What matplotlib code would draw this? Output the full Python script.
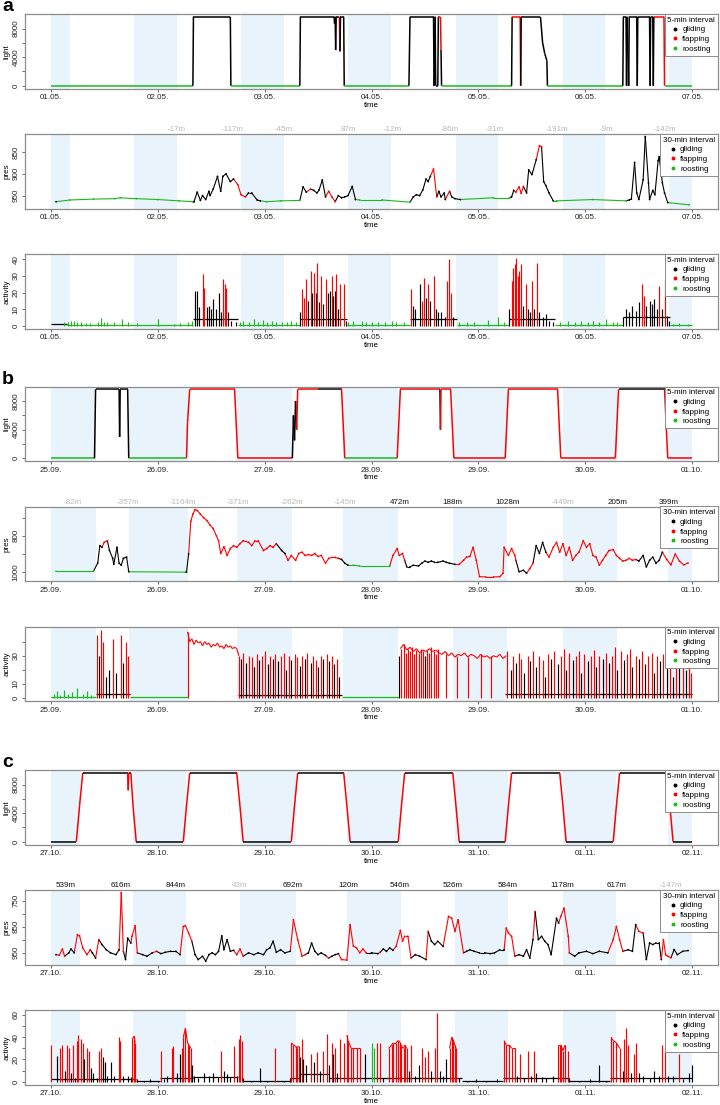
import matplotlib.pyplot as plt
from matplotlib.collections import LineCollection
from matplotlib.lines import Line2D

plt.rcParams['font.family'] = ['Liberation Sans', 'DejaVu Sans']
plt.rcParams['font.size'] = 5.8

# g = gliding, f = flapping, r = roosting
COL = {'g': '#000000', 'f': '#FF0000', 'r': '#1DB81D'}
NIGHT = '#E8F3FC'
GREY = '#B8B8B8'

# x axis: days since the first midnight
a_dates = ['01.05.', '02.05.', '03.05.', '04.05.', '05.05.', '06.05.', '07.05.']
b_dates = ['25.09.', '26.09.', '27.09.', '28.09.', '29.09.', '30.09.', '01.10.']
c_dates = ['27.10.', '28.10.', '29.10.', '30.10.', '31.10.', '01.11.', '02.11.']

a_night = [(0, 0.18), (0.78, 1.18), (1.78, 2.18), (2.78, 3.18), (3.79, 4.18), (4.79, 5.18), (5.78, 6.0)]
b_night = [(0, 0.42), (0.73, 1.28), (1.74, 2.26), (2.73, 3.25), (3.76, 4.27), (4.79, 5.30), (5.77, 6.0)]
c_night = [(0, 0.27), (0.77, 1.27), (1.77, 2.29), (2.77, 3.28), (3.78, 4.28), (4.79, 5.29), (5.77, 6.0)]

# altitude change labels above the pressure panels
a_alt_t = [1.18, 1.70, 2.18, 2.78, 3.20, 3.73, 4.15, 4.73, 5.20, 5.74]
a_alt = ['-17m', '-117m', '-45m', '87m', '-12m', '-86m', '-31m', '-191m', '-9m', '-142m']
a_alt_c = ['grey'] * 10
b_alt_t = [0.21, 0.72, 1.24, 1.75, 2.26, 2.75, 3.26, 3.76, 4.27, 4.79, 5.30, 5.78]
b_alt = ['-82m', '-357m', '-1164m', '-371m', '-262m', '-145m', '472m', '188m', '1028m', '-449m', '205m', '399m']
b_alt_c = ['grey'] * 6 + ['black'] * 3 + ['grey', 'black', 'black']
c_alt_t = [0.14, 0.65, 1.17, 1.77, 2.26, 2.78, 3.26, 3.76, 4.27, 4.78, 5.29, 5.80]
c_alt = ['539m', '616m', '844m', '43m', '692m', '120m', '546m', '526m', '584m', '1178m', '617m', '-147m']
c_alt_c = ['black'] * 3 + ['grey'] + ['black'] * 7 + ['grey']

# light (time, value, state)
a_light = [(0.00, 0, 'g'), (0.15, 0, 'r'), (1.33, 0, 'r'), (1.335, 9650, 'g'), (1.68, 9650, 'g'),
           (1.685, 0, 'g'), (1.70, 0, 'r'), (2.33, 0, 'r'), (2.335, 9650, 'g'), (2.65, 9650, 'g'),
           (2.655, 8700, 'g'), (2.66, 9650, 'g'), (2.665, 5000, 'g'), (2.67, 9650, 'g'), (2.70, 9650, 'g'),
           (2.705, 4800, 'f'), (2.71, 9650, 'g'), (2.74, 9650, 'g'), (2.745, 0, 'g'), (2.76, 0, 'r'),
           (3.35, 0, 'r'), (3.36, 9650, 'g'), (3.58, 9650, 'g'), (3.585, 0, 'g'), (3.595, 9650, 'g'),
           (3.60, 0, 'g'), (3.62, 0, 'g'), (3.625, 9650, 'g'), (3.645, 9650, 'f'), (3.65, 5000, 'f'),
           (3.655, 0, 'g'), (3.67, 0, 'r'), (4.31, 0, 'r'), (4.315, 9650, 'g'), (4.39, 9650, 'f'),
           (4.395, 0, 'f'), (4.40, 9650, 'g'), (4.58, 9650, 'g'), (4.60, 6000, 'g'), (4.62, 4500, 'g'),
           (4.64, 3500, 'g'), (4.645, 0, 'g'), (4.66, 0, 'r'), (5.35, 0, 'r'), (5.355, 9650, 'g'),
           (5.38, 9650, 'g'), (5.385, 0, 'g'), (5.39, 9650, 'g'), (5.405, 0, 'g'), (5.41, 9650, 'g'),
           (5.48, 9650, 'g'), (5.485, 0, 'g'), (5.49, 9650, 'g'), (5.60, 9650, 'g'), (5.605, 0, 'g'),
           (5.61, 9650, 'g'), (5.63, 9650, 'g'), (5.635, 0, 'g'), (5.64, 9650, 'g'), (5.735, 9650, 'f'),
           (5.74, 0, 'f'), (5.76, 0, 'r'), (6.0, 0, 'r')]
b_light = [(0.00, 0, 'r'), (0.41, 0, 'r'), (0.42, 9650, 'g'), (0.64, 9650, 'g'), (0.645, 3000, 'g'),
           (0.65, 9650, 'g'), (0.72, 9650, 'g'), (0.73, 0, 'g'), (1.27, 0, 'r'), (1.28, 5000, 'f'),
           (1.30, 9650, 'f'), (1.72, 9650, 'f'), (1.75, 0, 'f'), (2.26, 0, 'f'), (2.27, 6000, 'g'),
           (2.28, 2500, 'g'), (2.29, 8000, 'g'), (2.30, 4000, 'g'), (2.31, 9650, 'f'), (2.50, 9650, 'f'),
           (2.52, 9650, 'g'), (2.72, 9650, 'g'), (2.75, 0, 'f'), (3.24, 0, 'r'), (3.27, 9650, 'f'),
           (3.64, 9650, 'f'), (3.645, 4000, 'g'), (3.65, 9650, 'f'), (3.74, 9650, 'f'), (3.77, 0, 'f'),
           (4.25, 0, 'f'), (4.28, 9650, 'f'), (4.74, 9650, 'f'), (4.77, 0, 'f'), (5.28, 0, 'f'),
           (5.31, 9650, 'f'), (5.33, 9650, 'g'), (5.74, 9650, 'g'), (5.77, 0, 'f'), (6.0, 0, 'f')]
c_light = [(0.00, 0, 'g'), (0.24, 0, 'g'), (0.27, 5000, 'f'), (0.30, 9650, 'f'), (0.72, 9650, 'g'),
           (0.725, 7200, 'f'), (0.73, 9650, 'f'), (0.75, 9650, 'g'), (0.77, 5000, 'f'), (0.80, 0, 'f'),
           (1.24, 0, 'g'), (1.27, 5000, 'f'), (1.30, 9650, 'f'), (1.74, 9650, 'g'), (1.77, 5000, 'f'),
           (1.80, 0, 'f'), (2.25, 0, 'g'), (2.28, 5000, 'f'), (2.31, 9650, 'f'), (2.74, 9650, 'g'),
           (2.77, 5000, 'f'), (2.80, 0, 'f'), (3.25, 0, 'g'), (3.28, 5000, 'f'), (3.31, 9650, 'f'),
           (3.76, 9650, 'g'), (3.79, 5000, 'f'), (3.82, 0, 'f'), (4.25, 0, 'g'), (4.28, 5000, 'f'),
           (4.31, 9650, 'f'), (4.76, 9650, 'g'), (4.79, 5000, 'f'), (4.82, 0, 'f'), (5.26, 0, 'g'),
           (5.29, 5000, 'f'), (5.32, 9650, 'f'), (5.76, 9650, 'g'), (5.79, 5000, 'f'), (5.82, 0, 'f'),
           (6.0, 0, 'g')]

# pressure (time, hPa, state)
a_pres = [(0.05, 964, 'g'), (0.18, 960, 'r'), (0.40, 958, 'r'), (0.60, 957, 'r'), (0.65, 955, 'r'),
          (0.80, 957, 'r'), (1.00, 959, 'r'), (1.20, 962, 'r'), (1.33, 964, 'r'),
          (1.34, 964, 'g'), (1.37, 942, 'g'), (1.40, 961, 'g'), (1.42, 950, 'g'), (1.45, 959, 'g'),
          (1.48, 940, 'g'), (1.49, 950, 'g'), (1.52, 935, 'g'), (1.56, 906, 'g'), (1.59, 940, 'g'),
          (1.61, 906, 'g'), (1.64, 900, 'g'), (1.68, 918, 'g'), (1.71, 912, 'g'), (1.75, 925, 'f'),
          (1.78, 948, 'f'), (1.82, 953, 'f'), (1.85, 944, 'g'), (1.88, 944, 'g'), (1.93, 960, 'g'),
          (1.96, 962, 'g'), (2.02, 964, 'r'), (2.15, 962, 'r'), (2.33, 961, 'r'),
          (2.36, 930, 'g'), (2.39, 942, 'g'), (2.43, 935, 'f'), (2.46, 938, 'g'), (2.49, 944, 'g'),
          (2.51, 937, 'g'), (2.54, 914, 'g'), (2.57, 953, 'g'), (2.60, 940, 'f'), (2.63, 953, 'f'),
          (2.66, 964, 'f'), (2.69, 950, 'g'), (2.72, 955, 'g'), (2.75, 953, 'g'), (2.78, 950, 'g'),
          (2.82, 929, 'g'), (2.85, 959, 'g'), (2.89, 960, 'r'), (3.10, 960, 'r'), (3.36, 965, 'r'),
          (3.39, 953, 'g'), (3.42, 948, 'g'), (3.45, 950, 'g'), (3.48, 937, 'g'), (3.51, 912, 'g'),
          (3.53, 918, 'g'), (3.55, 906, 'g'), (3.58, 889, 'f'), (3.61, 953, 'f'), (3.63, 940, 'g'),
          (3.65, 953, 'g'), (3.68, 944, 'g'), (3.69, 959, 'g'), (3.73, 940, 'f'), (3.75, 953, 'g'),
          (3.78, 957, 'g'), (3.83, 959, 'g'), (4.14, 955, 'r'), (4.29, 955, 'r'),
          (4.31, 953, 'g'), (4.33, 938, 'g'), (4.35, 942, 'f'), (4.38, 930, 'f'), (4.40, 945, 'f'),
          (4.42, 929, 'f'), (4.45, 944, 'g'), (4.47, 891, 'g'), (4.50, 902, 'g'), (4.54, 868, 'g'),
          (4.57, 836, 'f'), (4.59, 838, 'f'), (4.61, 918, 'g'), (4.63, 927, 'g'), (4.66, 944, 'g'),
          (4.70, 962, 'g'), (4.73, 962, 'r'), (5.07, 959, 'r'), (5.38, 962, 'r'),
          (5.41, 960, 'g'), (5.43, 958, 'g'), (5.46, 874, 'g'), (5.48, 944, 'g'), (5.50, 959, 'g'),
          (5.54, 914, 'g'), (5.56, 815, 'g'), (5.59, 921, 'g'), (5.60, 959, 'g'), (5.63, 938, 'g'),
          (5.65, 948, 'g'), (5.68, 870, 'g'), (5.69, 861, 'g'), (5.72, 921, 'g'), (5.74, 944, 'g'),
          (5.77, 966, 'g'), (5.97, 971, 'r')]
b_pres = [(0.05, 995, 'r'), (0.40, 995, 'r'), (0.44, 950, 'g'), (0.46, 854, 'g'), (0.48, 863, 'g'),
          (0.50, 836, 'f'), (0.53, 827, 'f'), (0.55, 881, 'g'), (0.58, 924, 'g'), (0.59, 957, 'g'),
          (0.62, 863, 'g'), (0.64, 951, 'g'), (0.66, 962, 'g'), (0.68, 924, 'g'), (0.71, 917, 'g'),
          (0.73, 998, 'g'), (1.26, 1000, 'r'), (1.27, 1000, 'g'), (1.29, 900, 'g'), (1.31, 720, 'f'),
          (1.33, 680, 'f'), (1.35, 655, 'f'), (1.37, 660, 'f'), (1.40, 680, 'f'), (1.43, 700, 'f'),
          (1.46, 715, 'f'), (1.49, 740, 'f'), (1.52, 760, 'f'), (1.55, 800, 'f'), (1.57, 827, 'f'),
          (1.59, 897, 'f'), (1.62, 860, 'f'), (1.65, 908, 'f'), (1.68, 870, 'f'), (1.71, 854, 'f'),
          (1.74, 863, 'f'), (1.77, 843, 'f'), (1.80, 827, 'f'), (1.85, 835, 'f'), (1.88, 854, 'f'),
          (1.91, 827, 'f'), (1.94, 827, 'f'), (1.99, 881, 'f'), (2.02, 870, 'f'), (2.05, 854, 'f'),
          (2.08, 863, 'f'), (2.11, 843, 'f'), (2.16, 881, 'g'), (2.19, 897, 'g'), (2.22, 935, 'f'),
          (2.25, 908, 'f'), (2.29, 935, 'f'), (2.32, 897, 'f'), (2.35, 890, 'f'), (2.38, 908, 'f'),
          (2.41, 903, 'f'), (2.44, 908, 'f'), (2.47, 897, 'f'), (2.50, 914, 'f'), (2.53, 908, 'f'),
          (2.57, 951, 'f'), (2.60, 924, 'f'), (2.63, 919, 'f'), (2.66, 919, 'f'), (2.69, 924, 'f'),
          (2.72, 930, 'g'), (2.75, 951, 'g'), (2.78, 962, 'g'), (2.83, 962, 'r'), (2.89, 966, 'r'),
          (3.17, 966, 'r'), (3.20, 908, 'f'), (3.24, 870, 'f'), (3.26, 908, 'f'), (3.29, 897, 'f'),
          (3.31, 935, 'f'), (3.33, 971, 'g'), (3.36, 971, 'g'), (3.39, 962, 'g'), (3.44, 966, 'g'),
          (3.47, 951, 'g'), (3.50, 939, 'g'), (3.53, 946, 'g'), (3.56, 939, 'g'), (3.59, 946, 'g'),
          (3.62, 946, 'g'), (3.67, 939, 'g'), (3.70, 946, 'g'), (3.73, 951, 'g'), (3.78, 957, 'g'),
          (3.82, 957, 'f'), (3.86, 935, 'f'), (3.89, 917, 'f'), (3.92, 913, 'f'), (3.95, 863, 'f'),
          (3.98, 935, 'f'), (4.01, 1025, 'f'), (4.07, 1027, 'f'), (4.14, 1027, 'f'), (4.20, 1025, 'f'),
          (4.23, 1006, 'f'), (4.24, 863, 'f'), (4.28, 908, 'f'), (4.31, 870, 'f'), (4.34, 908, 'f'),
          (4.35, 935, 'f'), (4.38, 998, 'g'), (4.42, 990, 'g'), (4.45, 1006, 'g'), (4.48, 981, 'f'),
          (4.51, 951, 'f'), (4.54, 854, 'g'), (4.57, 897, 'g'), (4.60, 836, 'g'), (4.63, 890, 'g'),
          (4.66, 917, 'f'), (4.70, 863, 'f'), (4.73, 836, 'f'), (4.76, 890, 'f'), (4.79, 843, 'f'),
          (4.82, 908, 'f'), (4.85, 863, 'f'), (4.88, 935, 'f'), (4.91, 908, 'f'), (4.94, 890, 'f'),
          (4.98, 827, 'f'), (5.01, 863, 'f'), (5.04, 843, 'f'), (5.07, 908, 'f'), (5.10, 917, 'f'),
          (5.13, 962, 'f'), (5.16, 935, 'f'), (5.19, 908, 'f'), (5.22, 881, 'f'), (5.26, 876, 'f'),
          (5.29, 908, 'f'), (5.32, 924, 'f'), (5.35, 939, 'f'), (5.38, 935, 'f'), (5.41, 924, 'f'),
          (5.44, 935, 'f'), (5.47, 930, 'f'), (5.50, 939, 'g'), (5.54, 908, 'g'), (5.57, 971, 'g'),
          (5.60, 935, 'g'), (5.63, 917, 'g'), (5.66, 951, 'g'), (5.69, 935, 'g'), (5.72, 890, 'g'),
          (5.76, 930, 'f'), (5.80, 960, 'f'), (5.84, 900, 'f'), (5.88, 940, 'f'), (5.92, 960, 'f'),
          (5.96, 950, 'f')]
c_pres = [(0.05, 958, 'g'), (0.08, 960, 'f'), (0.11, 936, 'f'), (0.13, 964, 'f'), (0.17, 951, 'g'),
          (0.19, 936, 'g'), (0.22, 951, 'g'), (0.25, 881, 'f'), (0.27, 885, 'f'), (0.30, 932, 'f'),
          (0.34, 958, 'f'), (0.37, 939, 'f'), (0.39, 951, 'g'), (0.42, 971, 'g'), (0.45, 900, 'f'),
          (0.48, 919, 'g'), (0.52, 939, 'g'), (0.56, 951, 'g'), (0.61, 958, 'g'), (0.64, 939, 'g'),
          (0.66, 718, 'f'), (0.68, 945, 'f'), (0.70, 977, 'g'), (0.72, 894, 'g'), (0.75, 913, 'g'),
          (0.76, 887, 'f'), (0.79, 846, 'f'), (0.81, 951, 'f'), (0.86, 958, 'g'), (0.90, 964, 'g'),
          (0.95, 951, 'g'), (0.99, 945, 'f'), (1.03, 954, 'g'), (1.07, 949, 'g'), (1.12, 945, 'g'),
          (1.17, 945, 'g'), (1.21, 958, 'g'), (1.24, 849, 'f'), (1.26, 846, 'f'), (1.29, 874, 'f'),
          (1.32, 906, 'f'), (1.35, 958, 'g'), (1.38, 977, 'g'), (1.42, 964, 'g'), (1.45, 983, 'g'),
          (1.48, 958, 'g'), (1.51, 951, 'g'), (1.54, 958, 'g'), (1.57, 945, 'g'), (1.60, 885, 'g'),
          (1.62, 939, 'g'), (1.65, 900, 'g'), (1.68, 945, 'g'), (1.71, 941, 'g'), (1.74, 958, 'f'),
          (1.77, 936, 'f'), (1.80, 964, 'f'), (1.85, 951, 'g'), (1.90, 958, 'g'), (1.94, 951, 'g'),
          (1.99, 958, 'g'), (2.02, 939, 'g'), (2.05, 932, 'g'), (2.08, 906, 'g'), (2.11, 949, 'g'),
          (2.15, 939, 'g'), (2.19, 951, 'g'), (2.24, 945, 'g'), (2.27, 823, 'f'), (2.31, 900, 'f'),
          (2.35, 964, 'f'), (2.38, 958, 'f'), (2.41, 951, 'g'), (2.44, 913, 'g'), (2.47, 945, 'g'),
          (2.50, 958, 'g'), (2.53, 951, 'g'), (2.57, 961, 'g'), (2.60, 971, 'f'), (2.63, 964, 'g'),
          (2.66, 958, 'g'), (2.69, 954, 'g'), (2.72, 977, 'f'), (2.77, 979, 'f'), (2.80, 842, 'f'),
          (2.83, 925, 'f'), (2.86, 932, 'f'), (2.89, 951, 'f'), (2.92, 936, 'f'), (2.95, 951, 'f'),
          (3.00, 951, 'g'), (3.06, 954, 'g'), (3.08, 949, 'f'), (3.11, 936, 'g'), (3.14, 945, 'g'),
          (3.17, 932, 'g'), (3.20, 941, 'g'), (3.23, 926, 'f'), (3.27, 864, 'f'), (3.29, 906, 'f'),
          (3.31, 887, 'f'), (3.34, 887, 'f'), (3.37, 971, 'f'), (3.41, 958, 'g'), (3.45, 964, 'g'),
          (3.51, 977, 'g'), (3.53, 868, 'f'), (3.56, 906, 'g'), (3.59, 919, 'g'), (3.62, 906, 'g'),
          (3.67, 926, 'g'), (3.72, 810, 'f'), (3.75, 817, 'f'), (3.78, 868, 'f'), (3.81, 823, 'f'),
          (3.86, 951, 'f'), (3.89, 945, 'g'), (3.92, 939, 'g'), (3.96, 945, 'g'), (4.01, 951, 'g'),
          (4.06, 951, 'g'), (4.11, 954, 'g'), (4.15, 951, 'g'), (4.20, 939, 'g'), (4.24, 939, 'g'),
          (4.26, 855, 'f'), (4.28, 874, 'f'), (4.31, 887, 'f'), (4.34, 964, 'f'), (4.38, 958, 'g'),
          (4.42, 964, 'g'), (4.45, 939, 'g'), (4.48, 971, 'g'), (4.51, 900, 'g'), (4.53, 791, 'f'),
          (4.56, 900, 'g'), (4.59, 887, 'g'), (4.62, 906, 'g'), (4.65, 919, 'g'), (4.68, 958, 'g'),
          (4.73, 817, 'g'), (4.75, 836, 'g'), (4.77, 810, 'f'), (4.80, 778, 'f'), (4.84, 887, 'f'),
          (4.85, 951, 'f'), (4.90, 964, 'g'), (4.94, 951, 'g'), (5.01, 945, 'g'), (5.07, 954, 'g'),
          (5.13, 945, 'g'), (5.21, 951, 'g'), (5.26, 900, 'f'), (5.29, 849, 'f'), (5.32, 900, 'f'),
          (5.35, 945, 'f'), (5.40, 939, 'g'), (5.44, 945, 'g'), (5.47, 842, 'g'), (5.50, 868, 'f'),
          (5.54, 874, 'f'), (5.57, 977, 'g'), (5.60, 913, 'g'), (5.63, 919, 'g'), (5.66, 913, 'g'),
          (5.69, 913, 'g'), (5.71, 977, 'g'), (5.73, 900, 'f'), (5.75, 958, 'f'), (5.77, 964, 'f'),
          (5.80, 970, 'f'), (5.83, 938, 'g'), (5.86, 958, 'g'), (5.91, 945, 'g'), (5.96, 942, 'g')]

# activity: baseline stretches (start, end, level, state)
a_act_base = [(0.00, 0.15, 1, 'g'), (0.15, 1.33, 0.4, 'r'), (1.33, 1.75, 4, 'g'), (1.75, 2.33, 0.4, 'r'),
              (2.33, 2.77, 4, 'g'), (2.77, 3.36, 0.4, 'r'), (3.36, 3.80, 4, 'g'), (3.80, 4.29, 0.4, 'r'),
              (4.29, 4.72, 4, 'g'), (4.72, 5.35, 0.4, 'r'), (5.35, 5.79, 5, 'g'), (5.79, 6.0, 0.4, 'r')]
# activity readings (time, value, state)
a_act = [(0.12, 2, 'r'), (0.16, 2, 'r'), (0.19, 3, 'r'), (0.22, 3, 'r'), (0.25, 2.5, 'r'), (0.28, 2, 'r'),
         (0.33, 1.5, 'r'), (0.37, 1.5, 'r'), (0.44, 2, 'r'), (0.47, 4.5, 'r'), (0.50, 2, 'r'), (0.53, 2, 'r'),
         (0.59, 2.5, 'r'), (0.67, 4, 'r'), (0.72, 2, 'r'), (0.81, 1.5, 'r'), (1.00, 4, 'r'), (1.15, 1, 'r'),
         (1.21, 1.5, 'r'), (1.28, 2, 'r'), (1.32, 3, 'r'),
         (1.35, 21, 'g'), (1.37, 21, 'g'), (1.39, 11, 'g'), (1.42, 31, 'f'), (1.43, 23, 'f'), (1.46, 11, 'g'),
         (1.48, 12, 'g'), (1.50, 10, 'g'), (1.52, 16, 'g'), (1.55, 10, 'g'), (1.57, 20, 'g'), (1.59, 8, 'g'),
         (1.61, 28, 'f'), (1.63, 25, 'f'), (1.64, 23, 'f'), (1.66, 8, 'g'), (1.69, 3, 'g'), (1.73, 2, 'g'),
         (1.77, 2, 'r'), (1.80, 3, 'r'), (1.85, 2, 'r'), (1.90, 4, 'r'), (1.94, 2, 'r'), (1.99, 3.5, 'r'),
         (2.02, 2, 'r'), (2.07, 3, 'r'), (2.11, 2, 'r'), (2.16, 2.5, 'r'), (2.21, 2, 'r'), (2.25, 3, 'r'),
         (2.29, 2, 'r'),
         (2.33, 8, 'g'), (2.35, 22, 'f'), (2.37, 17, 'f'), (2.39, 28, 'f'), (2.41, 15, 'g'), (2.43, 33, 'f'),
         (2.44, 20, 'g'), (2.46, 32, 'f'), (2.48, 20, 'g'), (2.49, 38, 'f'), (2.51, 14, 'g'), (2.53, 30, 'f'),
         (2.55, 13, 'g'), (2.57, 28, 'f'), (2.59, 20, 'g'), (2.61, 21, 'g'), (2.63, 30, 'f'), (2.64, 18, 'g'),
         (2.66, 21, 'g'), (2.67, 31, 'f'), (2.69, 10, 'g'), (2.71, 25, 'f'), (2.74, 25, 'f'), (2.76, 3, 'g'),
         (2.78, 2, 'r'), (2.83, 3, 'r'), (2.91, 3, 'r'), (2.95, 2, 'r'), (3.00, 2, 'r'), (3.06, 2.5, 'r'),
         (3.13, 2, 'r'), (3.19, 3, 'r'), (3.23, 2, 'r'), (3.30, 2, 'r'),
         (3.37, 22, 'f'), (3.39, 12, 'g'), (3.41, 10, 'g'), (3.45, 25, 'g'), (3.47, 15, 'f'), (3.49, 29, 'f'),
         (3.51, 17, 'g'), (3.53, 25, 'f'), (3.55, 15, 'g'), (3.58, 30, 'f'), (3.60, 10, 'g'), (3.62, 8, 'g'),
         (3.65, 8, 'g'), (3.69, 5, 'g'), (3.71, 27, 'f'), (3.72, 40, 'f'), (3.74, 20, 'f'), (3.76, 5, 'g'),
         (3.82, 2, 'r'), (3.89, 2, 'r'), (3.96, 2.5, 'r'), (4.09, 3.5, 'r'), (4.18, 5, 'r'), (4.24, 2, 'r'),
         (4.29, 10, 'g'), (4.31, 27, 'f'), (4.32, 35, 'f'), (4.34, 37, 'f'), (4.35, 41, 'f'), (4.37, 30, 'f'),
         (4.38, 33, 'f'), (4.40, 37, 'f'), (4.42, 12, 'g'), (4.44, 25, 'f'), (4.46, 10, 'g'), (4.48, 8, 'g'),
         (4.50, 27, 'f'), (4.52, 10, 'g'), (4.55, 38, 'f'), (4.57, 8, 'g'), (4.60, 5, 'g'), (4.63, 7, 'g'),
         (4.66, 3, 'g'), (4.70, 2, 'g'),
         (4.76, 2, 'r'), (4.84, 3, 'r'), (4.90, 2.5, 'r'), (4.96, 3, 'r'), (5.02, 2.5, 'r'), (5.07, 3, 'r'),
         (5.13, 2, 'r'), (5.19, 4, 'r'), (5.26, 2, 'r'), (5.30, 2.5, 'r'),
         (5.35, 5, 'g'), (5.38, 10, 'g'), (5.41, 8, 'g'), (5.44, 12, 'g'), (5.47, 9, 'g'), (5.50, 14, 'g'),
         (5.53, 25, 'f'), (5.55, 18, 'f'), (5.57, 12, 'g'), (5.60, 15, 'g'), (5.62, 13, 'g'), (5.64, 16, 'g'),
         (5.67, 10, 'g'), (5.69, 24, 'f'), (5.72, 10, 'g'), (5.74, 28, 'f'), (5.76, 6, 'g'), (5.78, 3, 'g'),
         (5.82, 1, 'r'), (5.88, 1.5, 'r'), (5.96, 1, 'r')]
a_act_band = []

b_act_base = [(0.00, 0.42, 0.8, 'r'), (0.42, 0.74, 3, 'g'), (0.74, 1.28, 0.5, 'r'), (1.75, 2.72, 2, 'g'),
              (2.72, 3.26, 0.5, 'r'), (4.25, 6.0, 3, 'g')]
b_act = [(0.03, 3, 'r'), (0.06, 5, 'r'), (0.09, 2, 'r'), (0.12, 6, 'r'), (0.16, 3, 'r'), (0.20, 4, 'r'),
         (0.25, 7, 'r'), (0.30, 3, 'r'), (0.34, 5, 'r'), (0.38, 2, 'r'),
         (0.43, 45, 'f'), (0.45, 30, 'g'), (0.47, 48, 'f'), (0.49, 40, 'f'), (0.52, 15, 'g'), (0.55, 20, 'g'),
         (0.58, 42, 'f'), (0.61, 18, 'g'), (0.66, 45, 'f'), (0.68, 25, 'g'), (0.70, 40, 'f'), (0.72, 30, 'f'),
         (1.28, 47, 'f'),
         (1.76, 30, 'f'), (1.78, 28, 'g'), (1.80, 32, 'f'), (1.83, 25, 'g'), (1.85, 30, 'f'), (1.88, 29, 'f'),
         (1.90, 22, 'g'), (1.93, 31, 'f'), (1.95, 27, 'g'), (1.98, 30, 'f'), (2.00, 33, 'f'), (2.03, 24, 'g'),
         (2.05, 30, 'f'), (2.08, 28, 'g'), (2.10, 31, 'f'), (2.13, 26, 'g'), (2.15, 30, 'f'), (2.18, 32, 'f'),
         (2.20, 20, 'g'), (2.23, 30, 'f'), (2.25, 27, 'g'), (2.28, 31, 'f'), (2.30, 29, 'f'), (2.33, 23, 'g'),
         (2.35, 30, 'f'), (2.38, 28, 'g'), (2.40, 32, 'f'), (2.43, 25, 'g'), (2.45, 30, 'f'), (2.48, 27, 'f'),
         (2.50, 22, 'g'), (2.53, 30, 'f'), (2.55, 28, 'g'), (2.58, 31, 'f'), (2.60, 26, 'g'), (2.63, 30, 'f'),
         (2.65, 24, 'g'), (2.68, 28, 'f'), (2.70, 15, 'g'),
         (3.26, 30, 'g'), (3.28, 35, 'f'), (3.30, 38, 'f'), (3.32, 32, 'f'), (3.34, 35, 'f'), (3.36, 33, 'f'),
         (3.38, 36, 'f'), (3.40, 31, 'f'), (3.42, 34, 'f'), (3.44, 32, 'f'), (3.46, 35, 'f'), (3.48, 33, 'f'),
         (3.50, 30, 'g'), (3.52, 34, 'f'), (3.54, 32, 'f'), (3.56, 36, 'f'), (3.58, 33, 'f'), (3.60, 31, 'f'),
         (3.62, 35, 'f'), (3.70, 31, 'f'), (3.80, 30, 'f'), (3.90, 29, 'f'), (4.02, 31, 'f'), (4.12, 30, 'f'),
         (4.27, 33, 'f'), (4.30, 20, 'g'), (4.32, 30, 'f'), (4.35, 25, 'g'), (4.38, 32, 'f'), (4.40, 28, 'f'),
         (4.43, 18, 'g'), (4.46, 30, 'f'), (4.48, 26, 'g'), (4.51, 33, 'f'), (4.54, 22, 'g'), (4.57, 30, 'f'),
         (4.60, 27, 'f'), (4.62, 15, 'g'), (4.65, 31, 'f'), (4.68, 28, 'g'), (4.71, 33, 'f'), (4.74, 24, 'g'),
         (4.77, 30, 'f'), (4.80, 35, 'f'), (4.82, 20, 'g'), (4.85, 32, 'f'), (4.88, 27, 'g'), (4.91, 30, 'f'),
         (4.94, 33, 'f'), (4.96, 18, 'g'), (4.99, 31, 'f'), (5.02, 26, 'g'), (5.05, 30, 'f'), (5.08, 34, 'f'),
         (5.10, 22, 'g'), (5.13, 30, 'f'), (5.16, 28, 'g'), (5.19, 32, 'f'), (5.22, 25, 'g'), (5.25, 30, 'f'),
         (5.28, 36, 'f'), (5.30, 20, 'g'), (5.33, 33, 'f'), (5.36, 27, 'g'), (5.39, 31, 'f'), (5.42, 35, 'f'),
         (5.44, 22, 'g'), (5.47, 30, 'f'), (5.50, 28, 'g'), (5.53, 33, 'f'), (5.56, 24, 'g'), (5.59, 30, 'f'),
         (5.62, 32, 'f'), (5.64, 18, 'g'), (5.67, 30, 'f'), (5.70, 26, 'g'), (5.73, 31, 'f'), (5.76, 22, 'g'),
         (5.79, 28, 'f'), (5.82, 15, 'g'), (5.85, 30, 'f'), (5.88, 24, 'g'), (5.91, 28, 'f'), (5.94, 20, 'g'),
         (5.97, 25, 'f'), (5.99, 18, 'f')]
b_act_band = [(1.28, 47, 'f'), (1.30, 40, 'f'), (1.32, 42, 'f'), (1.34, 38, 'f'), (1.36, 41, 'f'),
              (1.38, 39, 'f'), (1.40, 40, 'f'), (1.42, 37, 'f'), (1.44, 40, 'f'), (1.46, 38, 'f'),
              (1.48, 39, 'f'), (1.50, 36, 'f'), (1.52, 38, 'f'), (1.54, 37, 'f'), (1.56, 39, 'f'),
              (1.58, 36, 'f'), (1.60, 37, 'f'), (1.62, 35, 'f'), (1.64, 38, 'f'), (1.66, 36, 'f'),
              (1.68, 37, 'f'), (1.70, 35, 'f'), (1.72, 36, 'f'), (1.74, 35, 'f'), (1.76, 30, 'f'),
              None,
              (3.27, 35, 'f'), (3.30, 38, 'f'), (3.33, 34, 'f'), (3.36, 36, 'f'), (3.39, 33, 'f'),
              (3.42, 35, 'f'), (3.45, 32, 'f'), (3.48, 34, 'f'), (3.51, 33, 'f'), (3.54, 35, 'f'),
              (3.57, 33, 'f'), (3.60, 34, 'f'), (3.63, 32, 'f'), (3.66, 31, 'f'), (3.69, 33, 'f'),
              (3.72, 30, 'f'), (3.75, 32, 'f'), (3.78, 29, 'f'), (3.81, 31, 'f'), (3.84, 30, 'f'),
              (3.87, 32, 'f'), (3.90, 29, 'f'), (3.93, 31, 'f'), (3.96, 30, 'f'), (3.99, 28, 'f'),
              (4.02, 31, 'f'), (4.05, 29, 'f'), (4.08, 30, 'f'), (4.11, 28, 'f'), (4.14, 30, 'f'),
              (4.17, 29, 'f'), (4.20, 31, 'f'), (4.23, 28, 'f'), (4.26, 30, 'f')]

c_act_base = [(0.00, 0.80, 2, 'g'), (0.80, 1.02, 1, 'g'), (1.02, 1.33, 3, 'g'), (1.33, 1.75, 4, 'g'),
              (1.80, 2.24, 1, 'g'), (2.24, 2.33, 3, 'g'), (2.33, 2.60, 7, 'g'), (2.60, 3.85, 3, 'g'),
              (3.85, 4.23, 1, 'g'), (4.23, 4.85, 3, 'g'), (4.85, 5.23, 1, 'g'), (5.23, 6.0, 3, 'g')]
c_act = [(0.00, 33, 'f'), (0.06, 23, 'g'), (0.09, 30, 'f'), (0.11, 33, 'f'), (0.13, 10, 'g'), (0.15, 33, 'f'),
         (0.17, 30, 'f'), (0.19, 8, 'g'), (0.21, 33, 'f'), (0.23, 3, 'g'), (0.25, 37, 'f'), (0.26, 42, 'f'),
         (0.28, 38, 'f'), (0.30, 35, 'f'), (0.31, 20, 'g'), (0.34, 30, 'f'), (0.36, 28, 'f'), (0.38, 12, 'g'),
         (0.40, 8, 'g'), (0.43, 3, 'g'), (0.45, 28, 'f'), (0.47, 30, 'f'), (0.49, 22, 'g'), (0.51, 18, 'g'),
         (0.53, 5, 'g'), (0.56, 18, 'g'), (0.59, 5, 'g'), (0.64, 40, 'f'), (0.65, 37, 'f'), (0.68, 5, 'g'),
         (0.72, 5, 'g'), (0.75, 4, 'g'), (0.76, 38, 'f'), (0.78, 41, 'f'), (0.79, 35, 'f'), (0.81, 2, 'g'),
         (0.87, 1, 'g'), (0.93, 2, 'g'), (1.00, 1, 'g'), (1.03, 28, 'f'), (1.06, 2, 'g'), (1.09, 5, 'g'),
         (1.13, 30, 'f'), (1.14, 32, 'f'), (1.18, 8, 'g'), (1.21, 25, 'g'), (1.23, 30, 'f'), (1.24, 40, 'f'),
         (1.26, 48, 'f'), (1.28, 35, 'f'), (1.29, 33, 'f'), (1.31, 30, 'f'), (1.32, 15, 'g'), (1.34, 5, 'g'),
         (1.38, 3, 'g'), (1.43, 8, 'g'), (1.48, 5, 'g'), (1.52, 8, 'g'), (1.56, 4, 'g'), (1.59, 28, 'f'),
         (1.62, 10, 'g'), (1.65, 7, 'g'), (1.68, 4, 'g'), (1.71, 32, 'f'), (1.74, 5, 'g'), (1.76, 38, 'f'),
         (1.77, 42, 'f'), (1.79, 37, 'f'), (1.80, 3, 'g'), (1.87, 1, 'g'), (1.96, 12, 'g'), (2.02, 1, 'g'),
         (2.10, 30, 'f'), (2.18, 1, 'g'), (2.24, 3, 'g'), (2.25, 35, 'f'), (2.27, 33, 'f'), (2.29, 32, 'f'),
         (2.30, 30, 'f'), (2.32, 32, 'f'), (2.33, 22, 'g'), (2.35, 38, 'f'), (2.36, 20, 'g'), (2.39, 15, 'g'),
         (2.43, 25, 'f'), (2.46, 18, 'g'), (2.49, 27, 'f'), (2.52, 10, 'g'), (2.55, 28, 'f'), (2.58, 43, 'f'),
         (2.60, 15, 'g'), (2.63, 35, 'f'), (2.64, 25, 'g'), (2.66, 30, 'f'), (2.68, 8, 'g'), (2.71, 38, 'f'),
         (2.74, 35, 'f'), (2.77, 42, 'f'), (2.78, 37, 'f'), (2.81, 30, 'f'), (2.83, 30, 'f'), (2.86, 30, 'f'),
         (2.89, 30, 'f'), (2.94, 25, 'g'), (3.00, 35, 'r'), (3.02, 30, 'r'), (3.05, 35, 'f'), (3.08, 35, 'f'),
         (3.11, 3, 'g'), (3.16, 30, 'f'), (3.19, 33, 'f'), (3.20, 35, 'f'), (3.23, 35, 'f'), (3.25, 37, 'f'),
         (3.27, 35, 'f'), (3.28, 32, 'f'), (3.30, 30, 'f'), (3.31, 33, 'f'), (3.33, 30, 'f'), (3.35, 10, 'g'),
         (3.37, 33, 'f'), (3.41, 5, 'g'), (3.44, 15, 'g'), (3.47, 30, 'f'), (3.50, 22, 'f'), (3.53, 28, 'f'),
         (3.56, 10, 'g'), (3.59, 30, 'f'), (3.61, 62, 'f'), (3.64, 10, 'g'), (3.67, 5, 'g'), (3.70, 20, 'g'),
         (3.73, 30, 'f'), (3.75, 40, 'f'), (3.76, 38, 'f'), (3.78, 33, 'f'), (3.79, 30, 'f'), (3.82, 3, 'g'),
         (3.89, 1, 'g'), (3.98, 2, 'g'), (4.07, 1, 'g'), (4.17, 2, 'g'), (4.24, 37, 'f'), (4.26, 33, 'f'),
         (4.29, 33, 'f'), (4.31, 30, 'f'), (4.34, 30, 'f'), (4.36, 5, 'g'), (4.39, 25, 'f'), (4.43, 3, 'g'),
         (4.46, 28, 'f'), (4.49, 5, 'g'), (4.52, 28, 'f'), (4.54, 8, 'g'), (4.59, 4, 'g'), (4.63, 3, 'g'),
         (4.70, 5, 'g'), (4.74, 33, 'f'), (4.76, 33, 'f'), (4.77, 33, 'f'), (4.79, 28, 'f'), (4.81, 33, 'f'),
         (4.84, 28, 'f'), (4.85, 3, 'g'), (4.94, 1, 'g'), (5.04, 2, 'g'), (5.13, 15, 'g'), (5.19, 1, 'g'),
         (5.24, 40, 'f'), (5.26, 37, 'f'), (5.29, 35, 'f'), (5.32, 30, 'f'), (5.35, 10, 'g'), (5.36, 38, 'f'),
         (5.38, 48, 'f'), (5.40, 33, 'f'), (5.43, 8, 'g'), (5.45, 25, 'f'), (5.47, 35, 'f'), (5.50, 8, 'g'),
         (5.54, 5, 'g'), (5.60, 3, 'g'), (5.64, 10, 'g'), (5.69, 5, 'g'), (5.72, 33, 'f'), (5.74, 28, 'f'),
         (5.77, 5, 'g'), (5.82, 5, 'g'), (5.88, 25, 'f'), (5.91, 2, 'g'), (5.97, 8, 'g'), (6.00, 15, 'g')]
c_act_band = [(0.76, 38, 'f'), (0.78, 41, 'f'), (0.79, 35, 'f'), None,
              (1.24, 40, 'f'), (1.26, 48, 'f'), (1.28, 35, 'f'), (1.29, 33, 'f'), (1.31, 30, 'f'), None,
              (2.25, 35, 'f'), (2.27, 33, 'f'), (2.29, 32, 'f'), (2.30, 30, 'f'), (2.32, 32, 'f'), None,
              (2.77, 42, 'f'), (2.78, 37, 'f'), (2.81, 30, 'f'), (2.83, 30, 'f'), (2.86, 30, 'f'), (2.89, 30, 'f'), None,
              (3.16, 30, 'f'), (3.19, 33, 'f'), (3.20, 35, 'f'), (3.23, 35, 'f'), (3.25, 37, 'f'), (3.27, 35, 'f'),
              (3.28, 32, 'f'), (3.30, 30, 'f'), (3.31, 33, 'f'), (3.33, 30, 'f'), None,
              (3.73, 30, 'f'), (3.75, 40, 'f'), (3.76, 38, 'f'), (3.78, 33, 'f'), (3.79, 30, 'f'), None,
              (4.24, 37, 'f'), (4.26, 33, 'f'), (4.29, 33, 'f'), (4.31, 30, 'f'), (4.34, 30, 'f'), None,
              (4.74, 33, 'f'), (4.76, 33, 'f'), (4.77, 33, 'f'), (4.79, 28, 'f'), (4.81, 33, 'f'), None,
              (5.24, 40, 'f'), (5.26, 37, 'f'), (5.29, 35, 'f'), (5.32, 30, 'f')]

# axis settings per section
light_ticks = [0, 2000, 4000, 6000, 8000]
light_labels = ['0', '', '4000', '', '8000']
a_pres_ticks, a_pres_labels = [850, 900, 950], ['850', '900', '950']
b_pres_ticks, b_pres_labels = [700, 800, 900, 1000], ['', '800', '', '1000']
c_pres_ticks, c_pres_labels = [750, 800, 850, 900, 950], ['750', '', '850', '', '950']
a_act_ticks, a_act_labels = [0, 10, 20, 30, 40], ['0', '10', '20', '30', '40']
b_act_ticks, b_act_labels = [0, 10, 20, 30, 40], ['0', '10', '', '30', '']
c_act_ticks, c_act_labels = [0, 10, 20, 30, 40, 50, 60], ['0', '', '20', '', '40', '', '60']


def colored_line(ax, pts, lw, dot=0):
    runs, cur = [], []
    for p in pts:
        if p is None:
            runs.append(cur)
            cur = []
        else:
            cur.append(p)
    runs.append(cur)
    for run in runs:
        segs = [[(run[i][0], run[i][1]), (run[i + 1][0], run[i + 1][1])] for i in range(len(run) - 1)]
        cols = [COL[run[i + 1][2]] for i in range(len(run) - 1)]
        ax.add_collection(LineCollection(segs, colors=cols, linewidths=lw, zorder=2))
        if dot:
            ax.scatter([p[0] for p in run], [p[1] for p in run], s=dot,
                       c=[COL[p[2]] for p in run], linewidths=0, zorder=3)


def draw_activity(ax, base, pts, band):
    for t0, t1, lev, s in base:
        ax.hlines(lev, t0, t1, color=COL[s], lw=0.9, zorder=2)
    ax.vlines([p[0] for p in pts], 0, [p[1] for p in pts],
              colors=[COL[p[2]] for p in pts], lw=0.85, zorder=2)
    if band:
        colored_line(ax, band, 0.8)


def style(ax, ylim, yticks, ylabels, ylabel, dates, nights, legend_title):
    for n0, n1 in nights:
        ax.axvspan(n0, n1, color=NIGHT, lw=0, zorder=0)
    ax.set_xlim(-0.24, 6.24)
    ax.set_ylim(ylim)
    ax.set_xticks(range(7))
    ax.set_xticklabels(dates)
    ax.set_yticks(yticks)
    ax.set_yticklabels(ylabels, rotation=90, va='center')
    ax.tick_params(length=2.5, width=0.6, labelsize=5.8, pad=1.5, color='#555555', labelcolor='#222222')
    for sp in ax.spines.values():
        sp.set_color('#8c8c8c')
        sp.set_linewidth(0.9)
    ax.set_ylabel(ylabel, fontsize=5.8, labelpad=1.5)
    ax.set_xlabel('time', fontsize=5.8, labelpad=0.5)
    handles = [Line2D([0], [0], marker='o', ls='none', ms=1.8, color=COL[k]) for k in 'gfr']
    leg = ax.legend(handles, ['gliding', 'flapping', 'roosting'], title=legend_title,
                    loc='upper right', bbox_to_anchor=(1, 1), borderaxespad=0,
                    fontsize=5.8, title_fontsize=5.8, fancybox=False, framealpha=1,
                    edgecolor='#8c8c8c', handlelength=0.8, handletextpad=0.5,
                    labelspacing=0.25, borderpad=0.35)
    leg.get_frame().set_linewidth(0.7)
    leg.set_zorder(10)


fig = plt.figure(figsize=(7.2, 11.05), dpi=100)
W, H = 720.0, 1105.0


def panel(top):
    h = 74.5
    return fig.add_axes([25 / W, 1 - (top + h) / H, 693 / W, h / H])


sections = [
    ('a', 0, a_dates, a_night, a_light, a_pres, (979.5, 809), a_pres_ticks, a_pres_labels,
     a_alt_t, a_alt, a_alt_c, a_act_base, a_act, a_act_band, (-1.66, 43.2), a_act_ticks, a_act_labels),
    ('b', 372.5, b_dates, b_night, b_light, b_pres, (1049, 638), b_pres_ticks, b_pres_labels,
     b_alt_t, b_alt, b_alt_c, b_act_base, b_act, b_act_band, (-2.1, 50.7), b_act_ticks, b_act_labels),
    ('c', 756, c_dates, c_night, c_light, c_pres, (996, 708), c_pres_ticks, c_pres_labels,
     c_alt_t, c_alt, c_alt_c, c_act_base, c_act, c_act_band, (-2.5, 64.5), c_act_ticks, c_act_labels),
]

for (letter, off, dates, nights, light, pres, pres_lim, pt, pl,
     alt_t, alt, alt_c, act_base, act, act_band, act_lim, at, al) in sections:
    fig.text(2 / W, 1 - (off + 11) / H, letter, fontsize=14, fontweight='bold', va='baseline')

    ax1 = panel(off + 14)
    colored_line(ax1, light, 1.1)
    style(ax1, (-386, 10036), light_ticks, light_labels, 'light', dates, nights, '5-min interval')

    ax2 = panel(off + 134)
    colored_line(ax2, pres, 0.8, dot=1.6)
    style(ax2, pres_lim, pt, pl, 'pres', dates, nights, '30-min interval')
    for t, s, c in zip(alt_t, alt, alt_c):
        ax2.annotate(s, xy=(t, 1), xycoords=('data', 'axes fraction'), xytext=(0, 0.5),
                     textcoords='offset points', ha='center', va='bottom', fontsize=5.8,
                     color=GREY if c == 'grey' else '#111111', annotation_clip=False)

    ax3 = panel(off + 254)
    draw_activity(ax3, act_base, act, act_band)
    style(ax3, act_lim, at, al, 'activity', dates, nights, '5-min interval')

fig.savefig('out.png', dpi=100)
